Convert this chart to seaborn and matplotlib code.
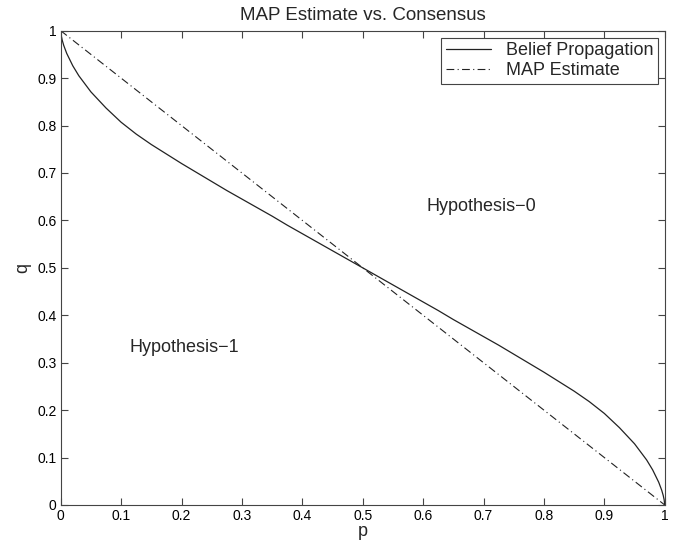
import numpy as np
import pandas as pd
import matplotlib
matplotlib.use("Agg")
import matplotlib.pyplot as plt
import seaborn as sns

# Data
bp_p = [0.0, 0.001, 0.0025, 0.005, 0.01, 0.02, 0.03, 0.04, 0.05, 0.075, 0.1, 0.125,
        0.15, 0.175, 0.2, 0.225, 0.25, 0.275, 0.3, 0.325, 0.35, 0.375, 0.4, 0.425,
        0.45, 0.475, 0.5, 0.525, 0.55, 0.575, 0.6, 0.625, 0.65, 0.675, 0.7, 0.725,
        0.75, 0.775, 0.8, 0.825, 0.85, 0.875, 0.9, 0.925, 0.95, 0.96, 0.97, 0.98,
        0.99, 0.995, 0.9975, 0.999, 1.0]
bp_q = [1.0, 0.989, 0.980, 0.969, 0.952, 0.926, 0.905, 0.888, 0.871, 0.837, 0.807, 0.782,
        0.760, 0.740, 0.720, 0.701, 0.682, 0.663, 0.645, 0.627, 0.609, 0.590, 0.572, 0.554,
        0.536, 0.518, 0.5, 0.482, 0.464, 0.446, 0.428, 0.410, 0.391, 0.373, 0.355, 0.337,
        0.318, 0.299, 0.280, 0.260, 0.240, 0.218, 0.193, 0.163, 0.129, 0.112, 0.095, 0.074,
        0.048, 0.031, 0.020, 0.011, 0.0]
map_p = [0.0, 1.0]
map_q = [1.0, 0.0]
ticks = [0, 0.1, 0.2, 0.3, 0.4, 0.5, 0.6, 0.7, 0.8, 0.9, 1]
tick_labels = ["0", "0.1", "0.2", "0.3", "0.4", "0.5", "0.6", "0.7", "0.8", "0.9", "1"]

sns.set_style("ticks")
plt.rcParams['font.family'] = ['Liberation Sans', 'DejaVu Sans']

fig = plt.figure(figsize=(6.79, 5.48), dpi=100)
ax = fig.add_axes([0.0894, 0.0785, 0.979 - 0.0894, 0.944 - 0.0785])

df_bp = pd.DataFrame({"p": bp_p, "q": bp_q})
df_map = pd.DataFrame({"p": map_p, "q": map_q})
sns.lineplot(data=df_bp, x="p", y="q", ax=ax, color="#222222", lw=0.9,
             label="Belief Propagation", sort=False, estimator=None)
sns.lineplot(data=df_map, x="p", y="q", ax=ax, color="#222222", lw=0.8,
             linestyle=(0, (7, 3, 1, 3)), label="MAP Estimate", sort=False, estimator=None)

ax.set_xlim(0, 1)
ax.set_ylim(0, 1)
ax.set_xticks(ticks)
ax.set_xticklabels(tick_labels)
ax.set_yticks(ticks)
ax.set_yticklabels(tick_labels)
ax.tick_params(direction="in", length=5, width=0.8, labelsize=10, colors="#444444",
               labelcolor="black", top=True, right=True, pad=3)
for s in ax.spines.values():
    s.set_visible(True)
    s.set_linewidth(0.8)
    s.set_color("#444444")

ax.set_xlabel("p", fontsize=13, labelpad=0)
ax.set_ylabel("q", fontsize=13, labelpad=4)
ax.set_title("MAP Estimate vs. Consensus", fontsize=13.5, pad=8)

ax.text(0.606, 0.629, "Hypothesis\u22120", fontsize=13, ha="left", va="center")
ax.text(0.1136, 0.332, "Hypothesis\u22121", fontsize=13, ha="left", va="center")

leg = ax.legend(loc="upper right", fontsize=13, frameon=True, fancybox=False,
                edgecolor="#444444", framealpha=1, borderpad=0.25, labelspacing=0.15,
                handlelength=2.5, handletextpad=0.8, borderaxespad=0.4)
leg.get_frame().set_linewidth(0.8)

fig.savefig("out.png", dpi=100)
